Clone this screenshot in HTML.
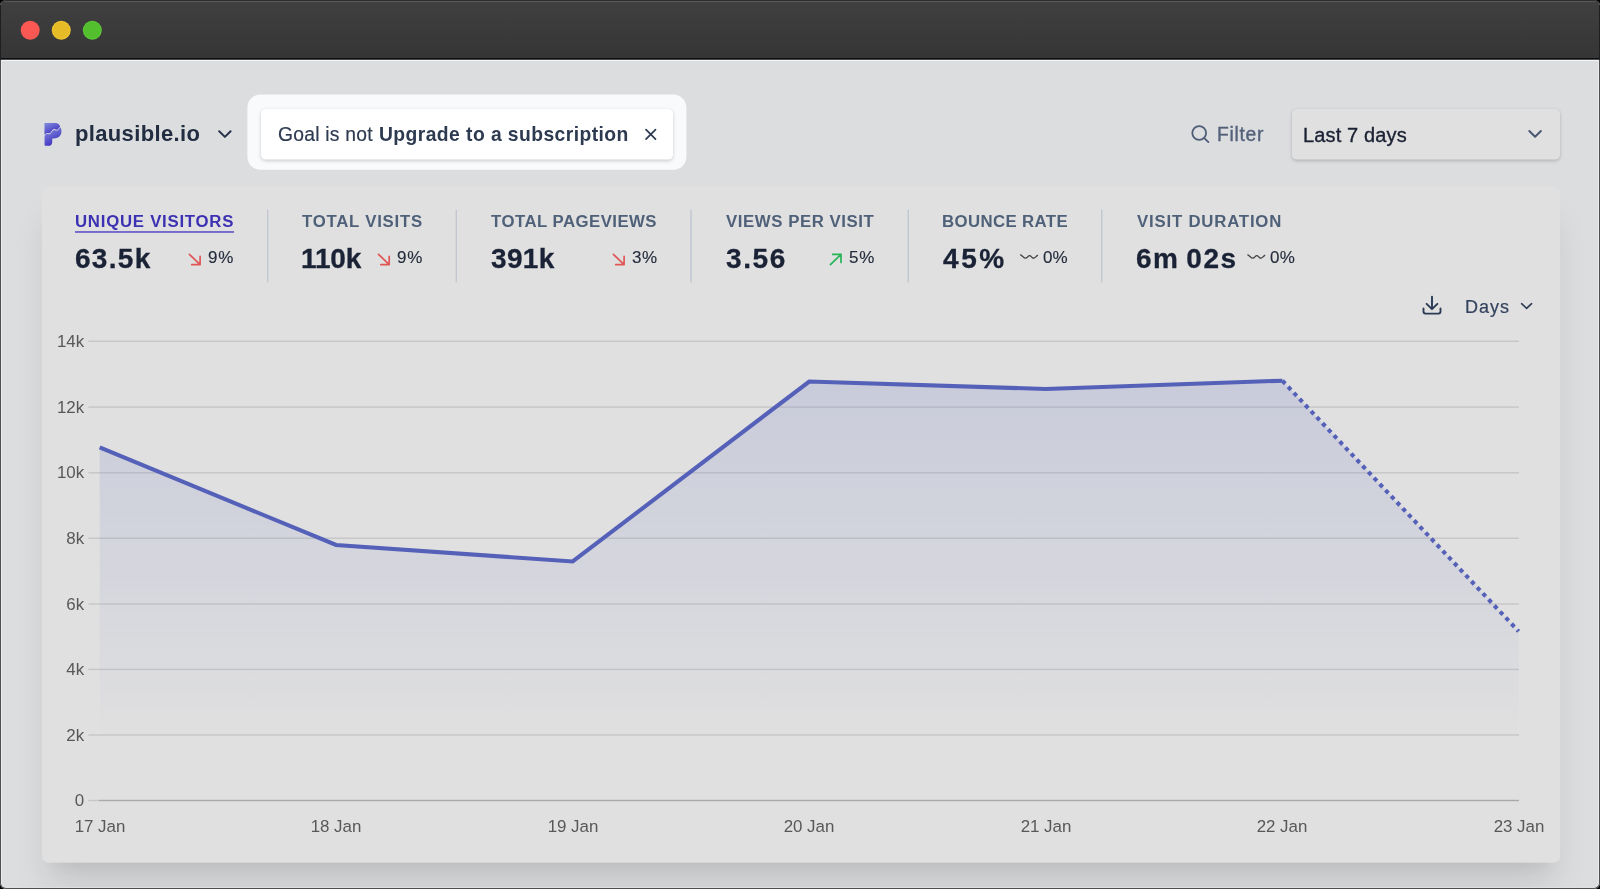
<!DOCTYPE html>
<html>
<head>
<meta charset="utf-8">
<title>Plausible dashboard</title>
<style>
*{box-sizing:border-box;margin:0;padding:0}
html,body{width:1600px;height:889px;overflow:hidden;background:#000;font-family:"Liberation Sans",sans-serif}
.win{position:absolute;left:0;top:0;width:1600px;height:889px;border-radius:6px;overflow:hidden;background:#dcdddf}
.frame{position:absolute;left:0;top:0;width:1600px;height:889px;border-radius:6px;border:1px solid #4f4f4f;border-top-color:#2c2c2c;z-index:50}
.frame2{position:absolute;left:1px;top:60px;width:1598px;height:828px;border-radius:0 0 5px 5px;border:1px solid #e9eaeb;border-bottom-color:#dfe0e1;border-top:none;z-index:49}
.tbar{position:absolute;left:0;top:0;width:1600px;height:58px;background:linear-gradient(#404040,#353535)}
.tbar:before{content:"";position:absolute;left:0;top:1px;width:100%;height:1px;background:#5b5b5b}
.tl1{position:absolute;left:0;top:58px;width:1600px;height:1px;background:#0d0d0d}
.tl2{position:absolute;left:0;top:59px;width:1600px;height:1px;background:#4a4a4a}
.tl3{position:absolute;left:0;top:60px;width:1600px;height:1px;background:#f3f4f5}
.dot{position:absolute;top:21px;width:19px;height:19px;border-radius:50%}
.abs{position:absolute;white-space:nowrap;line-height:1;will-change:transform}
svg{position:absolute;overflow:visible}
</style>
</head>
<body>
<div class="win">
  <div class="tbar"></div>
  <div class="tl1"></div><div class="tl2"></div><div class="tl3"></div>
  <svg style="left:0;top:0" width="120" height="60" viewBox="0 0 120 60"><circle cx="30.2" cy="30.2" r="9.45" fill="#fc5a55"/><circle cx="30.2" cy="30.2" r="8.5" fill="#fb5753"/><circle cx="61.25" cy="30.2" r="9.45" fill="#f0c530"/><circle cx="61.25" cy="30.2" r="8.4" fill="#e5bc28"/><circle cx="92.3" cy="30.2" r="9.45" fill="#5cc837"/><circle cx="92.3" cy="30.2" r="8.4" fill="#53bf2f"/></svg>

  <div class="abs" style="left:75.1px;top:123px;font-weight:700;font-size:22px;letter-spacing:0.345px;color:#222d41;">plausible.io</div>
<svg style="left:0;top:0" width="700" height="180" viewBox="0 0 700 180"><rect x="247.4" y="94.6" width="439" height="75.2" rx="13" fill="#f9fafb"/></svg>
<div style="position:absolute;left:261px;top:109px;width:412px;height:50px;border-radius:5px;background:#fff;box-shadow:0 1.4px 4px rgba(0,0,0,.12),0 1.4px 3px rgba(0,0,0,.08)"></div>
<svg style="left:0;top:0" width="700" height="180" viewBox="0 0 700 180"><rect x="261.2" y="109.2" width="411.8" height="50.4" rx="5" fill="#fff"/></svg>
<div class="abs" style="left:277.6px;top:125px;font-weight:400;font-size:19.3px;letter-spacing:0.24px;color:#2d3a50;-webkit-text-stroke:0.2px #2d3a50;">Goal is not</div>
<div class="abs" style="left:379px;top:125px;font-weight:700;font-size:19.3px;letter-spacing:0.433px;color:#2d3a50;">Upgrade to a subscription</div>
<div class="abs" style="left:1217.4px;top:125px;font-weight:400;font-size:19.3px;letter-spacing:0.72px;color:#536079;-webkit-text-stroke:0.35px #536079;">Filter</div>
<div style="position:absolute;left:1292px;top:109px;width:268px;height:50px;border-radius:5px;background:#e0e0e0;box-shadow:0 1.4px 4px rgba(0,0,0,.12),0 1.4px 3px rgba(0,0,0,.08)"></div>
<svg style="left:1280px;top:100px" width="300" height="70" viewBox="1280 100 300 70"><rect x="1292.1" y="109.2" width="267.8" height="50.4" rx="5" fill="#e0e0e0"/></svg>
<div class="abs" style="left:1302.7px;top:125px;font-weight:400;font-size:20px;letter-spacing:0.14px;color:#1a2133;-webkit-text-stroke:0.35px #1a2133;">Last 7 days</div>
<div style="position:absolute;left:42px;top:187px;width:1518px;height:675px;border-radius:5px;background:#e0e0e0;box-shadow:0 27.5px 34px -7px rgba(0,0,0,.115),0 14px 14px -7px rgba(0,0,0,.045)"></div>
<div class="abs" style="left:74.8px;top:214px;font-weight:700;font-size:16.8px;letter-spacing:0.743px;color:#3b31b2;">UNIQUE VISITORS</div>
<div class="abs" style="left:302.3px;top:214px;font-weight:700;font-size:16.8px;letter-spacing:0.749px;color:#4f6079;">TOTAL VISITS</div>
<div class="abs" style="left:490.9px;top:214px;font-weight:700;font-size:16.8px;letter-spacing:0.46px;color:#4f6079;">TOTAL PAGEVIEWS</div>
<div class="abs" style="left:726.1px;top:214px;font-weight:700;font-size:16.8px;letter-spacing:0.564px;color:#4f6079;">VIEWS PER VISIT</div>
<div class="abs" style="left:942px;top:214px;font-weight:700;font-size:16.8px;letter-spacing:0.38px;color:#4f6079;">BOUNCE RATE</div>
<div class="abs" style="left:1136.9px;top:214px;font-weight:700;font-size:16.8px;letter-spacing:0.8px;color:#4f6079;">VISIT DURATION</div>
<div class="abs" style="left:75.2px;top:245px;font-weight:700;font-size:28px;letter-spacing:1.3px;color:#1a2236;-webkit-text-stroke:0.3px #1a2236;">63.5k</div>
<div class="abs" style="left:301.3px;top:245px;font-weight:700;font-size:28px;letter-spacing:-0.134px;color:#1a2236;-webkit-text-stroke:0.3px #1a2236;">110k</div>
<div class="abs" style="left:490.9px;top:245px;font-weight:700;font-size:28px;letter-spacing:0.334px;color:#1a2236;-webkit-text-stroke:0.3px #1a2236;">391k</div>
<div class="abs" style="left:725.9px;top:245px;font-weight:700;font-size:28px;letter-spacing:1.6px;color:#1a2236;-webkit-text-stroke:0.3px #1a2236;">3.56</div>
<div class="abs" style="left:943px;top:245px;font-weight:700;font-size:28px;letter-spacing:2.6px;color:#1a2236;-webkit-text-stroke:0.3px #1a2236;">45%</div>
<div class="abs" style="left:1135.9px;top:245px;font-weight:700;font-size:28px;letter-spacing:1.54px;color:#1a2236;-webkit-text-stroke:0.3px #1a2236;word-spacing:-2.5px;">6m 02s</div>
<div class="abs" style="left:207.9px;top:249px;font-weight:400;font-size:17px;letter-spacing:0.8px;color:#252d3d;-webkit-text-stroke:0.15px #252d3d;">9%</div>
<div class="abs" style="left:396.8px;top:249px;font-weight:400;font-size:17px;letter-spacing:0.9px;color:#252d3d;-webkit-text-stroke:0.15px #252d3d;">9%</div>
<div class="abs" style="left:632.0px;top:249px;font-weight:400;font-size:17px;letter-spacing:0.6px;color:#252d3d;-webkit-text-stroke:0.15px #252d3d;">3%</div>
<div class="abs" style="left:848.8px;top:249px;font-weight:400;font-size:17px;letter-spacing:0.9px;color:#252d3d;-webkit-text-stroke:0.15px #252d3d;">5%</div>
<div class="abs" style="left:1043px;top:249px;font-weight:400;font-size:17px;letter-spacing:0.0px;color:#252d3d;-webkit-text-stroke:0.15px #252d3d;">0%</div>
<div class="abs" style="left:1269.9px;top:249px;font-weight:400;font-size:17px;letter-spacing:0.3px;color:#252d3d;-webkit-text-stroke:0.15px #252d3d;">0%</div>
<div class="abs" style="left:1465px;top:298px;font-weight:400;font-size:18px;letter-spacing:1.0px;color:#33425e;-webkit-text-stroke:0.2px #33425e;">Days</div>
<svg style="left:0;top:0" width="1600" height="889" viewBox="0 0 1600 889"><defs><linearGradient id="fillg" gradientUnits="userSpaceOnUse" x1="0" y1="330" x2="0" y2="742"><stop offset="0" stop-color="#5f6cc0" stop-opacity="0.205"/><stop offset="1" stop-color="#5f6cc0" stop-opacity="0"/></linearGradient></defs><rect x="46" y="860" width="1510" height="2.65" fill="#e0e0e0"/><rect x="88.4" y="340.6" width="1430.6" height="1.4" fill="#c6c6c7"/><rect x="88.4" y="406.4" width="1430.6" height="1.4" fill="#c6c6c7"/><rect x="88.4" y="472.1" width="1430.6" height="1.4" fill="#c6c6c7"/><rect x="88.4" y="537.5" width="1430.6" height="1.4" fill="#c6c6c7"/><rect x="88.4" y="603.3" width="1430.6" height="1.4" fill="#c6c6c7"/><rect x="88.4" y="668.7" width="1430.6" height="1.4" fill="#c6c6c7"/><rect x="88.4" y="734.3" width="1430.6" height="1.4" fill="#c6c6c7"/><rect x="88.4" y="799.8" width="11" height="1.4" fill="#c6c6c7"/><rect x="75" y="231.1" width="159" height="1.75" fill="#6a60c8"/><rect x="267" y="209.8" width="1.4" height="72.5" fill="#c2c7d1"/><rect x="455.6" y="209.8" width="1.4" height="72.5" fill="#c2c7d1"/><rect x="690.3" y="209.8" width="1.5" height="72.5" fill="#c2c7d1"/><rect x="907.5" y="209.8" width="1.5" height="72.5" fill="#c2c7d1"/><rect x="1101" y="209.8" width="1.5" height="72.5" fill="#c2c7d1"/><rect x="99" y="799.8" width="1420" height="1.4" fill="#a9a9aa"/><path d="M99.7 447.4 L336.1 545 L572.7 561.5 L809.2 381.5 L1045.8 389 L1282.4 380.7 L1518.6 631.3 L1518.6 800.5 L99.7 800.5 Z" fill="url(#fillg)"/><path d="M99.7 447.4 L336.1 545 L572.7 561.5 L809.2 381.5 L1045.8 389 L1282.4 380.7" fill="none" stroke="#5561b8" stroke-width="4.1" stroke-linejoin="miter" stroke-linecap="butt"/><path d="M1282.4 380.7 L1518.6 631.3" fill="none" stroke="#5561b8" stroke-width="4.1" stroke-dasharray="4.175 4.175" stroke-dashoffset="0"/><g transform="translate(44.48 122.88) scale(0.04047) translate(-160 -170)">
<defs><linearGradient id="lg1" x1="0.1" y1="0" x2="0.75" y2="1"><stop offset="0" stop-color="#7f88dc"/><stop offset="1" stop-color="#3a2abd"/></linearGradient>
<linearGradient id="lg2" x1="0.15" y1="0.1" x2="0.6" y2="1"><stop offset="0" stop-color="#7f88dc"/><stop offset="1" stop-color="#3a2abd"/></linearGradient></defs>
<path fill="url(#lg1)" d="M160 170 L430 170 C490 172 535 210 548 258 L485 335 C465 348 440 338 420 328 C400 320 380 322 362 342 L300 418 C285 432 265 430 245 420 C225 412 205 420 160 462 Z"/>
<path fill="url(#lg2)" d="M162 486 C205 440 225 432 245 442 C265 452 290 452 305 436 L366 362 C380 344 400 342 418 350 C440 360 470 368 492 352 L553 280 C580 330 590 370 570 440 C545 515 480 555 400 556 L352 558 L352 640 C350 700 310 738 262 738 L190 738 C172 738 162 728 162 710 Z"/>
</g><g transform="translate(216 126)"><path d="M3.2 5.2 L8.9 10.9 L14.6 5.2" fill="none" stroke="#27324a" stroke-width="2" stroke-linecap="round" stroke-linejoin="round"/></g><g transform="translate(643 126.6)"><path d="M3 3 L12.5 12.5 M12.5 3 L3 12.5" fill="none" stroke="#2d3a50" stroke-width="1.7" stroke-linecap="round"/></g><g transform="translate(1189 123)"><circle cx="10.2" cy="10" r="6.9" fill="none" stroke="#4e5d78" stroke-width="1.8"/><path d="M15.3 15.1 L19.4 19.1" stroke="#4e5d78" stroke-width="1.8" stroke-linecap="round"/></g><g transform="translate(1526 126)"><path d="M3.3 5 L9.1 10.8 L14.9 5" fill="none" stroke="#4a5872" stroke-width="2" stroke-linecap="round" stroke-linejoin="round"/></g><g transform="translate(188.4 253.3)"><path d="M1 1 L11.7 11.3 M3.3 11.3 L11.7 11.3 L11.7 3.1" fill="none" stroke="#e05555" stroke-width="1.7" stroke-linecap="round" stroke-linejoin="round"/></g><g transform="translate(377.5 253.3)"><path d="M1 1 L11.7 11.3 M3.3 11.3 L11.7 11.3 L11.7 3.1" fill="none" stroke="#e05555" stroke-width="1.7" stroke-linecap="round" stroke-linejoin="round"/></g><g transform="translate(612.4 253.3)"><path d="M1 1 L11.7 11.3 M3.3 11.3 L11.7 11.3 L11.7 3.1" fill="none" stroke="#e05555" stroke-width="1.7" stroke-linecap="round" stroke-linejoin="round"/></g><g transform="translate(829.4 253.4)"><path d="M1 11.2 L11.6 1 M3.3 1 L11.6 1 L11.6 9" fill="none" stroke="#27b457" stroke-width="1.7" stroke-linecap="round" stroke-linejoin="round"/></g><g transform="translate(1020 253)"><path d="M0.6 1.9 C2.2 2.4 3.8 5.2 5.7 5.2 C7.4 5.2 8 2.7 9.6 2.7 C11.2 2.7 11.8 5.2 13.5 5.2 C15.2 5.2 16.2 3.1 17.5 2.4" fill="none" stroke="#444" stroke-width="1.35" stroke-linecap="round"/></g><g transform="translate(1247.2 253)"><path d="M0.6 1.9 C2.2 2.4 3.8 5.2 5.7 5.2 C7.4 5.2 8 2.7 9.6 2.7 C11.2 2.7 11.8 5.2 13.5 5.2 C15.2 5.2 16.2 3.1 17.5 2.4" fill="none" stroke="#444" stroke-width="1.35" stroke-linecap="round"/></g><g transform="translate(1420 294.2)"><path d="M12 2.4 L12 14.6 M6.6 9.6 L12 15 L17.4 9.6 M3.5 14.2 L3.5 17.4 Q3.5 19.4 5.5 19.4 L18.5 19.4 Q20.5 19.4 20.5 17.4 L20.5 14.2" fill="none" stroke="#2b3a55" stroke-width="1.9" stroke-linecap="round" stroke-linejoin="round"/></g><g transform="translate(1519 299)"><path d="M2.6 4.7 L7.6 9.3 L12.6 4.7" fill="none" stroke="#2b3a55" stroke-width="1.6" stroke-linecap="round" stroke-linejoin="round"/></g></svg>
<div class="abs" style="left:20px;width:64.2px;text-align:right;top:334px;font-size:16.9px;color:#585858">14k</div>
<div class="abs" style="left:20px;width:64.2px;text-align:right;top:400px;font-size:16.9px;color:#585858">12k</div>
<div class="abs" style="left:20px;width:64.2px;text-align:right;top:465px;font-size:16.9px;color:#585858">10k</div>
<div class="abs" style="left:20px;width:64.2px;text-align:right;top:531px;font-size:16.9px;color:#585858">8k</div>
<div class="abs" style="left:20px;width:64.2px;text-align:right;top:597px;font-size:16.9px;color:#585858">6k</div>
<div class="abs" style="left:20px;width:64.2px;text-align:right;top:662px;font-size:16.9px;color:#585858">4k</div>
<div class="abs" style="left:20px;width:64.2px;text-align:right;top:728px;font-size:16.9px;color:#585858">2k</div>
<div class="abs" style="left:20px;width:64.2px;text-align:right;top:793px;font-size:16.9px;color:#585858">0</div>
<div class="abs" style="left:59.7px;width:80px;text-align:center;top:819px;font-size:16.9px;color:#585858">17 Jan</div>
<div class="abs" style="left:296.1px;width:80px;text-align:center;top:819px;font-size:16.9px;color:#585858">18 Jan</div>
<div class="abs" style="left:532.7px;width:80px;text-align:center;top:819px;font-size:16.9px;color:#585858">19 Jan</div>
<div class="abs" style="left:769.2px;width:80px;text-align:center;top:819px;font-size:16.9px;color:#585858">20 Jan</div>
<div class="abs" style="left:1005.8px;width:80px;text-align:center;top:819px;font-size:16.9px;color:#585858">21 Jan</div>
<div class="abs" style="left:1242.4px;width:80px;text-align:center;top:819px;font-size:16.9px;color:#585858">22 Jan</div>
<div class="abs" style="left:1478.6px;width:80px;text-align:center;top:819px;font-size:16.9px;color:#585858">23 Jan</div>
</div>
<div class="frame2"></div>
<div class="frame"></div>
<div style="position:absolute;left:0;top:5px;width:1px;height:55px;background:#1f1f1f;z-index:51"></div><div style="position:absolute;left:1599px;top:5px;width:1px;height:55px;background:#1f1f1f;z-index:51"></div>
</body>
</html>
